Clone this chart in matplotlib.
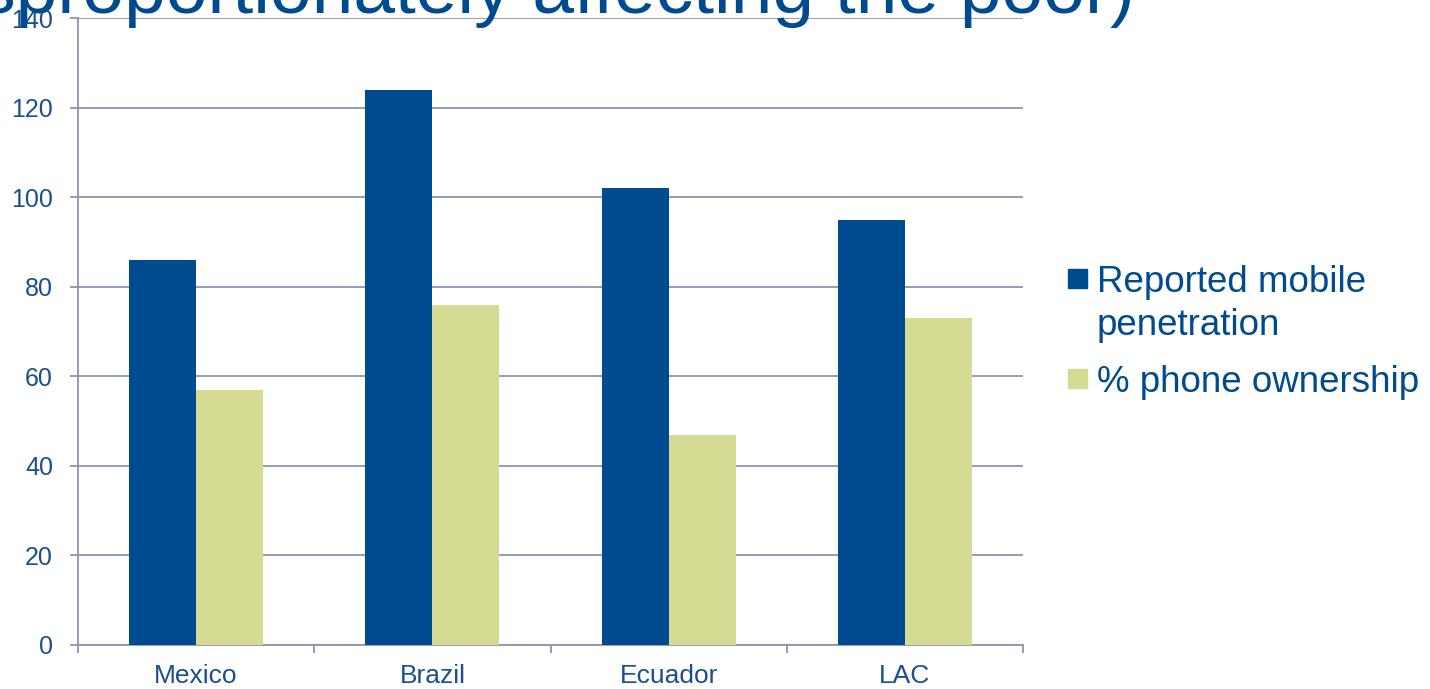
import matplotlib
matplotlib.use("Agg")
import matplotlib.pyplot as plt
from matplotlib.patches import Rectangle
import numpy as np

plt.rcParams['font.family'] = ['Liberation Sans', 'DejaVu Sans']

categories = ["Mexico", "Brazil", "Ecuador", "LAC"]
reported_mobile = [86, 124, 102, 95]
phone_ownership = [57, 76, 47, 73]
series_labels = ["Reported mobile\npenetration", "% phone ownership"]
title_text = "(disproportionately affecting the poor)"
yticks = [0, 20, 40, 60, 80, 100, 120, 140]

BLUE = "#004A8F"
GREEN = "#D5DB93"
TEXT = "#1B4F8E"
GRID = "#8C94B2"

W, H = 1430, 689
fig = plt.figure(figsize=(W / 100, H / 100), dpi=100)
ax = fig.add_axes([78 / W, (H - 645) / H, (1023 - 78) / W, (645 - 18) / H])

x = np.arange(len(categories))
bw = 0.284
ax.bar(x - bw / 2, reported_mobile, width=bw, color=BLUE, zorder=3)
ax.bar(x + bw / 2, phone_ownership, width=bw, color=GREEN, zorder=3)

ax.set_xlim(-0.5, len(categories) - 0.5)
ax.set_ylim(0, 140)
ax.set_yticks(yticks)
ax.set_yticklabels([str(v) for v in yticks])
ax.set_xticks(x)
ax.set_xticklabels(categories)
ax.set_xticks(np.arange(len(categories) + 1) - 0.5, minor=True)

ax.yaxis.grid(True, color=GRID, linewidth=1.3, zorder=0)
ax.set_axisbelow(True)
for s in ["top", "right"]:
    ax.spines[s].set_visible(False)
for s in ["left", "bottom"]:
    ax.spines[s].set_color(GRID)
    ax.spines[s].set_linewidth(1.3)

ax.tick_params(axis='y', colors=GRID, labelcolor=TEXT, labelsize=18, length=6, width=1.3, pad=12)
ax.tick_params(axis='x', which='major', length=0, labelcolor=TEXT, labelsize=19, pad=14)
ax.tick_params(axis='x', which='minor', length=6, width=1.3, color=GRID, direction='out')

# title (partly cut off at the top, as in the reference)
fig.text(1135 / W, (H - 13) / H, title_text, ha='right', va='baseline',
         fontsize=54, color=BLUE)

# legend
leg_colors = [BLUE, GREEN]
leg_y = [278.5, 378]
for col, lab, yc in zip(leg_colors, series_labels, leg_y):
    fig.add_artist(Rectangle((1068 / W, (H - yc - 9.5) / H), 19 / W, 19 / H,
                             transform=fig.transFigure, color=col))
    lines = lab.split("\n")
    for k, ln in enumerate(lines):
        fig.text(1097 / W, (H - yc - 43 * k) / H, ln, ha='left', va='center_baseline',
                 fontsize=26.5, color=BLUE)

fig.savefig("out.png", dpi=100)
